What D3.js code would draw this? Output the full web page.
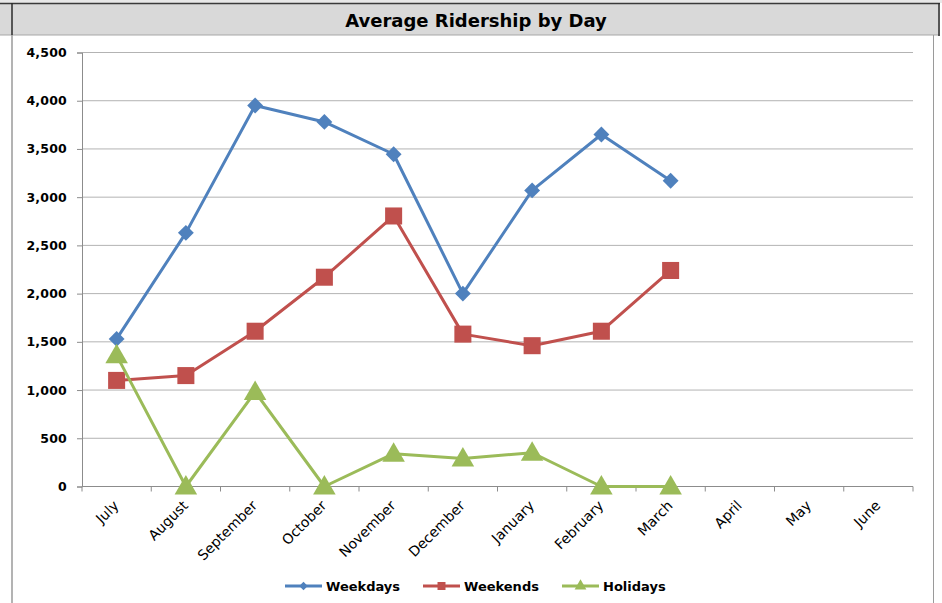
<!DOCTYPE html>
<html><head><meta charset="utf-8">
<script src="https://cdn.jsdelivr.net/npm/d3@7"></script>
<style>html,body{margin:0;padding:0;background:#fff;}svg{display:block;}</style>
</head><body>
<script>
const months = ["July","August","September","October","November","December","January","February","March","April","May","June"];
const weekdays = [1530, 2630, 3950, 3780, 3445, 2000, 3070, 3650, 3170];
const weekends = [1100, 1150, 1610, 2170, 2805, 1580, 1460, 1610, 2240];
const holidays = [1360, 0, 980, 0, 340, 290, 350, 0, 0];
const yTicks = [0,500,1000,1500,2000,2500,3000,3500,4000,4500];
const seriesNames = ["Weekdays","Weekends","Holidays"];
const colors = ["#4F81BD","#C0504D","#9BBB59"];
const title = "Average Ridership by Day";

const W = 942, H = 603;
const svg = d3.select("body").append("svg").attr("width", W).attr("height", H);

// spreadsheet-like header
svg.append("rect").attr("x",0).attr("y",0).attr("width",W).attr("height",3).attr("fill","#e8e8e8");
svg.append("rect").attr("x",0).attr("y",3).attr("width",940).attr("height",32).attr("fill","#d9d9d9");
svg.append("line").attr("x1",0).attr("x2",940).attr("y1",3.5).attr("y2",3.5).attr("stroke","#3a3a3a").attr("stroke-width",1.5);
svg.append("line").attr("x1",0).attr("x2",940).attr("y1",35).attr("y2",35).attr("stroke","#a8a8a8").attr("stroke-width",1.2);
svg.append("line").attr("x1",12).attr("x2",12).attr("y1",3).attr("y2",35).attr("stroke","#2a2a2a").attr("stroke-width",1.5);
svg.append("line").attr("x1",939).attr("x2",939).attr("y1",3).attr("y2",36).attr("stroke","#2a2a2a").attr("stroke-width",1.5);
svg.append("text").attr("x",476).attr("y",27).attr("text-anchor","middle")
  .attr("font-family","DejaVu Sans").attr("font-weight","bold").attr("font-size",18).attr("fill","#000").text(title);

// chart frame
svg.append("line").attr("x1",12).attr("x2",12).attr("y1",35).attr("y2",H).attr("stroke","#9a9a9a").attr("stroke-width",1.5);
svg.append("line").attr("x1",933.5).attr("x2",933.5).attr("y1",35).attr("y2",H).attr("stroke","#9a9a9a").attr("stroke-width",1);

const x = d3.scaleBand().domain(months).range([82, 913]).padding(0);
const y = d3.scaleLinear().domain([0, 4500]).range([486.5, 52.5]);
const cx = m => x(m) + x.bandwidth()/2;

// gridlines
svg.append("g").selectAll("line").data(yTicks.filter(d=>d>0)).join("line")
  .attr("x1",82).attr("x2",913).attr("y1",d=>y(d)).attr("y2",d=>y(d))
  .attr("stroke","#b3b3b3").attr("stroke-width",1);

// y axis
const yAxis = d3.axisLeft(y).tickValues(yTicks).tickFormat(d3.format(",")).tickSize(5).tickPadding(10);
const gy = svg.append("g").attr("transform","translate(82,0)").call(yAxis);
gy.select(".domain").attr("stroke","#8c8c8c");
gy.selectAll(".tick line").attr("stroke","#8c8c8c");
gy.selectAll(".tick text").attr("font-family","DejaVu Sans").attr("font-weight","bold")
  .attr("font-size",12.5).attr("letter-spacing","0.2px").attr("fill","#000");

// x axis
svg.append("line").attr("x1",82).attr("x2",913).attr("y1",y(0)).attr("y2",y(0)).attr("stroke","#8c8c8c");
const bounds = months.map(m => x(m)).concat([x(months[months.length-1]) + x.bandwidth()]);
svg.append("g").selectAll("line").data(bounds).join("line")
  .attr("x1",d=>d).attr("x2",d=>d).attr("y1",y(0)).attr("y2",y(0)+5).attr("stroke","#8c8c8c");
svg.append("g").selectAll("text").data(months).join("text")
  .attr("transform", m => `translate(${cx(m)+3},${y(0)+20}) rotate(-45)`)
  .attr("text-anchor","end")
  .attr("font-family","DejaVu Sans").attr("font-size",14).attr("fill","#000").text(m=>m);

// series
const data = [weekdays, weekends, holidays];
const symbols = [
  d3.symbol().type(d3.symbolDiamond2).size(160),
  d3.symbol().type(d3.symbolSquare).size(290),
  d3.symbol().type(d3.symbolTriangle).size(220)
];
const line = d3.line().x((d,i)=>cx(months[i])).y(d=>y(d));
data.forEach((vals, s) => {
  const g = svg.append("g");
  g.append("path").datum(vals).attr("d", line).attr("fill","none")
    .attr("stroke", colors[s]).attr("stroke-width", 3).attr("stroke-linejoin","round");
  g.selectAll("path.m").data(vals).join("path").attr("class","m")
    .attr("transform",(d,i)=>`translate(${cx(months[i])},${y(d) + (s===2?1.5:0)})`)
    .attr("d", symbols[s]).attr("fill", colors[s]);
});

// legend
const legendX = [285, 423, 562];
const ly = 586;
const legSymbols = [
  d3.symbol().type(d3.symbolDiamond2).size(45),
  d3.symbol().type(d3.symbolSquare).size(64),
  d3.symbol().type(d3.symbolTriangle).size(60)
];
seriesNames.forEach((n, s) => {
  const g = svg.append("g").attr("transform",`translate(${legendX[s]},${ly})`);
  g.append("line").attr("x1",0).attr("x2",37).attr("y1",0).attr("y2",0).attr("stroke",colors[s]).attr("stroke-width",3);
  g.append("path").attr("transform","translate(18.5,0)").attr("d",legSymbols[s]).attr("fill",colors[s]);
  g.append("text").attr("x",41).attr("y",0).attr("dy","0.36em")
    .attr("font-family","DejaVu Sans").attr("font-weight","bold").attr("font-size",13).attr("fill","#000").text(n);
});
</script>
</body></html>
